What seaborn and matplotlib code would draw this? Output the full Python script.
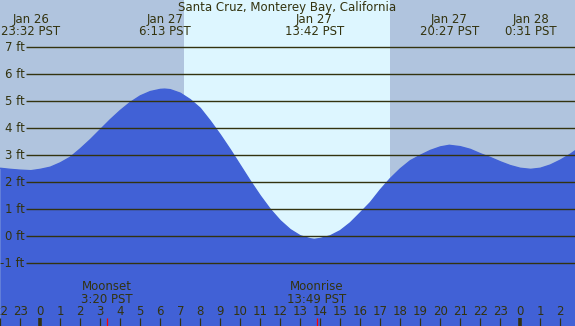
"""Tide chart for Santa Cruz, Monterey Bay, California (Jan 27)."""

import matplotlib
matplotlib.use("Agg")
import matplotlib.pyplot as plt
import matplotlib.transforms as mtransforms
import pandas as pd
import seaborn as sns

TITLE = "Santa Cruz, Monterey Bay, California"

# hours relative to Jan 27 00:00 PST, tide height in ft
tide_hours = [-2, -1.5, -1, -0.467, 0, 0.5, 1, 1.5, 2, 2.5, 3, 3.5, 4, 4.5, 5,
              5.5, 6, 6.217, 6.5, 7, 7.5, 8, 8.5, 9, 9.5, 10, 10.5, 11, 11.5,
              12, 12.5, 13, 13.5, 13.7, 14, 14.5, 15, 15.5, 16, 16.5, 17, 17.5,
              18, 18.5, 19, 19.5, 20, 20.45, 21, 21.5, 22, 22.5, 23, 23.5, 24,
              24.517, 25, 25.5, 26, 26.5, 27]
tide_ft = [2.52, 2.48, 2.45, 2.43, 2.48, 2.56, 2.72, 2.93, 3.24, 3.58, 3.95,
           4.32, 4.66, 4.96, 5.20, 5.36, 5.44, 5.45, 5.43, 5.30, 5.06, 4.74,
           4.27, 3.76, 3.21, 2.63, 2.05, 1.50, 1.00, 0.58, 0.25, 0.02, -0.09,
           -0.11, -0.08, 0.02, 0.21, 0.50, 0.87, 1.25, 1.72, 2.14, 2.50, 2.80,
           3.00, 3.18, 3.31, 3.37, 3.32, 3.22, 3.06, 2.92, 2.76, 2.62, 2.52,
           2.48, 2.52, 2.64, 2.82, 3.04, 3.30]

# high / low tide labels
extreme_hours = [-0.467, 6.217, 13.7, 20.45, 24.517]
extreme_labels = ["Jan 26\n23:32 PST", "Jan 27\n6:13 PST", "Jan 27\n13:42 PST",
                  "Jan 27\n20:27 PST", "Jan 28\n0:31 PST"]

sunrise, sunset = 7.18, 17.48
moon_hours = [3.333, 13.817]
moon_labels = ["Moonset\n3:20 PST", "Moonrise\n13:49 PST"]

feet = [-1, 0, 1, 2, 3, 4, 5, 6, 7]
hour_ticks = list(range(-2, 27))

NIGHT = "#b0c4de"
DAY = "#ddf6ff"
WATER = "#4161d6"
INK = "#33330f"

XLIM = (-2.015, 26.735)
YLIM = (-3.32, 8.75)
FS = 8.5

sns.set_theme(style="white")
plt.rcParams["font.family"] = ["DejaVu Sans"]

df = pd.DataFrame({"hour": tide_hours, "ft": tide_ft})

fig = plt.figure(figsize=(5.75, 3.26), dpi=100, facecolor=NIGHT)
ax = fig.add_axes([0, 0, 1, 1])
ax.axvspan(XLIM[0], XLIM[1], color=NIGHT, lw=0)
ax.axvspan(sunrise, sunset, color=DAY, lw=0)

ax.fill_between(df["hour"], df["ft"], YLIM[0], color=WATER, lw=0)
sns.lineplot(data=df, x="hour", y="ft", ax=ax, color=WATER, lw=1)

ax.hlines(feet, XLIM[0] + 26 / 20, XLIM[1], color=INK, lw=1.0)
for f in feet:
    ax.text(XLIM[0] + 24.5 / 20, f, f"{f} ft", ha="right", va="center",
            fontsize=FS, color=INK)

trans = mtransforms.blended_transform_factory(ax.transData, ax.transAxes)
tick_top = 8 / 326
for h in hour_ticks:
    midnight = h % 24 == 0
    ax.plot([h, h], [0, tick_top], transform=trans, color=INK,
            lw=2.6 if midnight else 0.9, solid_capstyle="butt")
    ax.text(h, 1 - 311.5 / 326, str(h % 24), transform=trans, ha="center",
            va="center", fontsize=FS, color=INK)

for h, lab in zip(moon_hours, moon_labels):
    ax.plot([h, h], [0, tick_top], transform=trans, color="red", lw=0.9,
            solid_capstyle="butt")
    ax.text(h, 1 - 293 / 326, lab, transform=trans, ha="center", va="center",
            fontsize=FS, color=INK, linespacing=0.95)

for h, lab in zip(extreme_hours, extreme_labels):
    ax.text(h, 1 - 25.5 / 326, lab, transform=trans, ha="center", va="center",
            fontsize=FS, color=INK, linespacing=0.95)

ax.text(0.5, 1 - 8 / 326, TITLE, transform=ax.transAxes, ha="center",
        va="center", fontsize=FS, color=INK)

ax.set_xlim(*XLIM)
ax.set_ylim(*YLIM)
ax.set_axis_off()
fig.savefig("out.png", dpi=100, facecolor=NIGHT)
plt.close(fig)
